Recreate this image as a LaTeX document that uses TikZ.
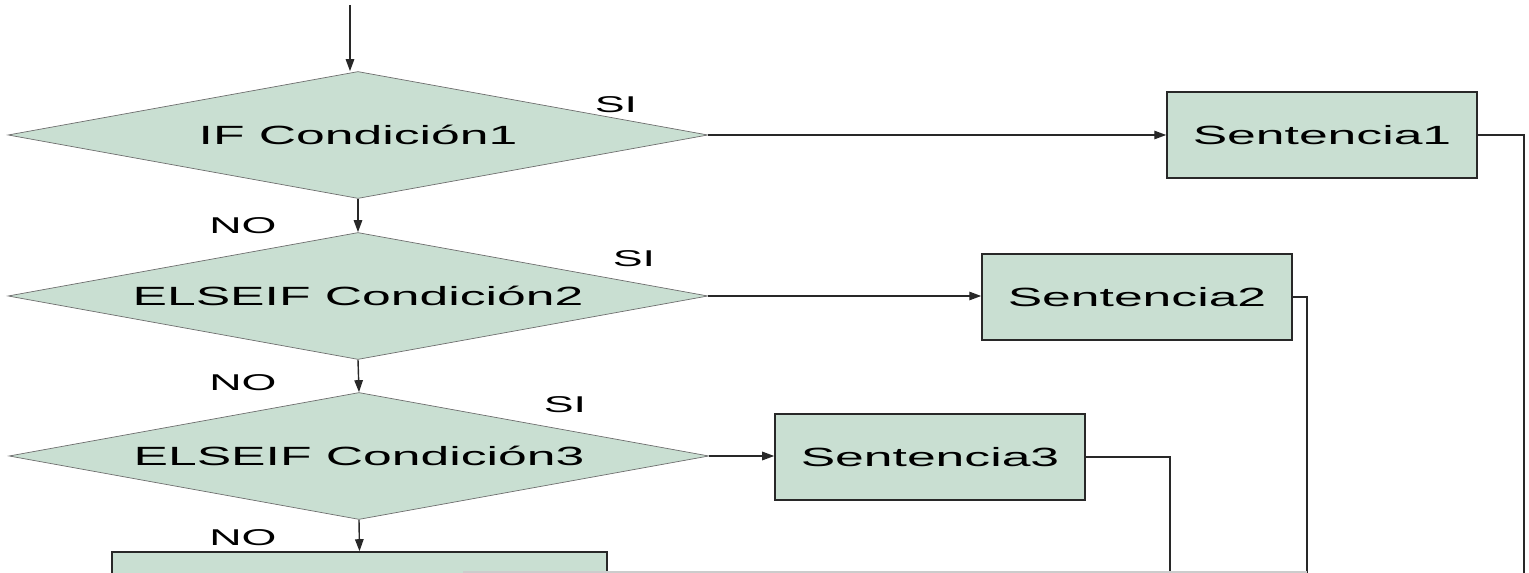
\documentclass[tikz,border=0pt]{standalone}
\usepackage{fontspec}
\setmainfont{Liberation Sans}
\newfontfamily\widefont[FakeStretch=1.96]{Liberation Sans}
\usetikzlibrary{shapes.geometric,arrows.meta}
\definecolor{verdecaja}{RGB}{201,223,210}
\definecolor{bordegris}{RGB}{110,110,110}
\definecolor{lineaoscura}{RGB}{40,40,40}

\begin{document}
\begin{tikzpicture}[x=0.02cm,y=-0.02cm]
            \tikzstyle{cond} = [diamond, aspect=5.5, minimum width=14cm, minimum height=2.54cm, inner sep=0pt, draw=bordegris, fill=verdecaja, font=\widefont\fontsize{15}{18}\selectfont]
            \tikzstyle{box} = [rectangle, minimum width=6.2cm, minimum height=1.72cm, draw=lineaoscura, line width=0.9pt, fill=verdecaja, font=\widefont\fontsize{15}{18}\selectfont]
            \tikzstyle{rama} = [font=\widefont\fontsize{13}{15}\selectfont]
            \tikzstyle{arrow} = [line width=0.8pt, draw=lineaoscura, ->, >={Triangle[length=0.24cm,width=0.17cm]}]
            \tikzstyle{line} = [line width=0.8pt, draw=lineaoscura]

            \useasboundingbox (0,0) rectangle (1529,573);
            \clip (0,0) rectangle (1529,573);

            % Nodes
            \node (cond1) [cond] at (358,135) {IF Condición1};
            \node (cond2) [cond] at (358,296) {ELSEIF Condición2};
            \node (cond3) [cond] at (359,456) {ELSEIF Condición3};
            \node (sent1) [box] at (1322,135) {Sentencia1};
            \node (sent2) [box] at (1137,297) {Sentencia2};
            \node (sent3) [box] at (930,457) {Sentencia3};
            \node (sent4) [box, minimum width=9.9cm] at (359.5,595) {};

            % Labels
            \node (no1) [rama] at (243,226) {NO};
            \node (no2) [rama] at (243,383) {NO};
            \node (no3) [rama] at (243,538) {NO};
            \node (si1) [rama] at (616,105) {SI};
            \node (si2) [rama] at (634,259) {SI};
            \node (si3) [rama] at (565,405) {SI};

            % Free ends
            \coordinate (inicio) at (350,5);
            \coordinate (fin1) at (1524,600);
            \coordinate (fin2) at (1307,600);
            \coordinate (fin3) at (1170,600);

            % Arrows
            \draw [arrow] (inicio) -- (inicio |- cond1.north);
            \draw [arrow] (cond1.south) -- (cond2.north);
            \draw [arrow] (cond2.south) -- (cond3.north);
            \draw [arrow] (cond3.south) -- (sent4.north);
            \draw [arrow] (cond1.east) -- (sent1.west);
            \draw [arrow] (cond2.east) -- (sent2.west |- cond2.east);
            \draw [arrow] (cond3.east) -- (sent3.west |- cond3.east);
            \draw [line] (sent1.east) -| (fin1);
            \draw [line] (sent2.east) -| (fin2);
            \draw [line] (sent3.east) -| (fin3);

            % cut edge below
            \draw [black!20, line width=1pt] (463,572) -- (1307,572);
        \end{tikzpicture}
\end{document}
